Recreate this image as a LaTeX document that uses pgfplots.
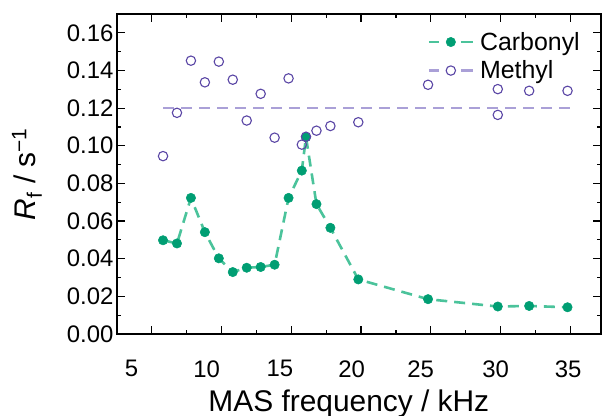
\documentclass[border=0pt]{standalone}
\usepackage{fontspec}
\setmainfont{Liberation Sans}
\usepackage{pgfplots}
\pgfplotsset{compat=1.18}
\definecolor{cgreen}{RGB}{0,158,115}
\definecolor{cgreenl}{RGB}{75,195,155}
\definecolor{mpurple}{RGB}{90,70,165}
\definecolor{mlav}{RGB}{170,160,215}
\begin{document}
\begin{tikzpicture}
\begin{axis}[
  scale only axis, width=484bp, height=320bp,
  xmin=2.5, xmax=37.2, ymin=0, ymax=0.17,
  xtick={5,10,...,35}, minor x tick num=1, xticklabels={},
  extra x ticks={3.55,8.93,14.18,19.32,24.27,29.65,34.85},
  extra x tick labels={5,10,15,20,25,30,35},
  extra x tick style={major tick length=0pt, xticklabel style={yshift=-23bp}},
  ytick={0,0.02,...,0.161}, minor y tick num=1,
  tick align=inside, major tick length=8bp, minor tick length=4bp,
  every tick/.style={black, line width=1.2bp},
  axis line style={line width=1.6bp},
  /pgf/number format/assume math mode=true,
  tick label style={font=\fontsize{24}{24}\selectfont},
  yticklabel style={/pgf/number format/.cd, fixed, fixed zerofill, precision=2},
  scaled y ticks=false,
  xlabel={MAS frequency / kHz},
  xlabel style={font=\fontsize{30}{30}\selectfont, at={(axis description cs:0.479,-0.243)}, anchor=base},
  ylabel={\textit{R}\textsubscript{f} / s\textsuperscript{−1}},
  ylabel style={font=\fontsize{30}{30}\selectfont, at={(axis description cs:-0.186,0.5)}, anchor=center},
  legend style={draw=none, fill=none, font=\fontsize{25}{25}\selectfont, at={(axis description cs:0.635,0.956)}, anchor=north west, row sep=5bp, cells={anchor=west}},
  legend cell align=left,
  legend image code/.code={\draw[#1, solid] (0bp,0bp) -- (10bp,0bp) (32bp,0bp) -- (44bp,0bp); \draw[#1] plot coordinates {(22bp,0bp)}; \path (48bp,0bp);},
]
\addlegendimage{cgreenl, line width=2.6bp, mark=*, mark size=4.7bp, mark options={solid, fill=cgreen, draw=cgreen, line width=0.5bp}}
\addlegendentry{Carbonyl}
\addlegendimage{mlav, line width=2.6bp, mark=o, mark size=4.7bp, mark options={solid, draw=mpurple, line width=1.1bp}}
\addlegendentry{Methyl}
% methyl mean line
\addplot[forget plot, mlav, line width=2.4bp, dash pattern=on 11bp off 7bp] coordinates {(5.8,0.12) (35.4,0.12)};
% carbonyl
\addplot[forget plot, cgreenl, line width=2.6bp, dash pattern=on 11bp off 7bp, mark=*, mark size=4.7bp, mark options={solid, fill=cgreen, draw=cgreen, line width=0.5bp}] coordinates {
(5.8,0.0498) (6.8,0.0481) (7.8,0.0723) (8.8,0.0541) (9.8,0.0402) (10.8,0.0329) (11.8,0.0352) (12.8,0.0356) (13.8,0.0368) (14.8,0.0723) (15.75,0.0868) (16.05,0.1046) (16.8,0.0690) (17.8,0.0564) (19.8,0.0290) (24.8,0.0185) (29.8,0.0146) (32.05,0.0149) (34.8,0.0142)
};
% methyl
\addplot[forget plot, only marks, mark=o, mark size=4.7bp, mark options={draw=mpurple, line width=1.1bp}] coordinates {
(5.8,0.0945) (6.8,0.1175) (7.8,0.1452) (8.8,0.1337) (9.8,0.1447) (10.8,0.1351) (11.8,0.1134) (12.8,0.1276) (13.8,0.1043) (14.8,0.1358) (15.75,0.1006) (16.05,0.1048) (16.8,0.1080) (17.8,0.1105) (19.8,0.1125) (24.8,0.1324) (29.8,0.1301) (29.8,0.1164) (32.05,0.1292) (34.8,0.1292)
};
\end{axis}
\pgfresetboundingbox
\path[use as bounding box] ([xshift=-117bp,yshift=-82bp]current axis.south west) rectangle ([xshift=1bp,yshift=14bp]current axis.north east);
\end{tikzpicture}
\end{document}
